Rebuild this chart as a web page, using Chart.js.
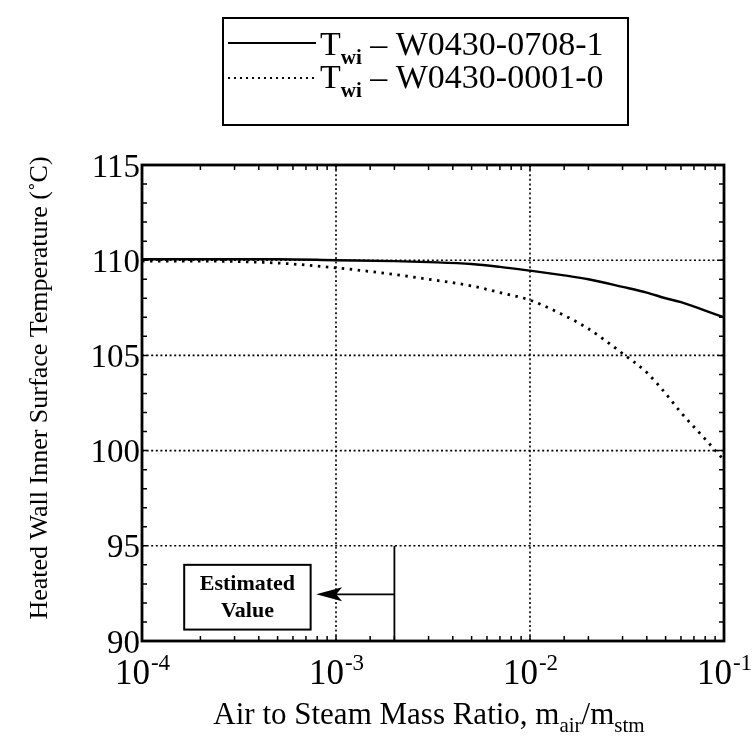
<!DOCTYPE html>
<html lang="en">
<head>
<meta charset="UTF-8" />
<title>Heated Wall Inner Surface Temperature</title>
<script src="https://cdn.jsdelivr.net/npm/chart.js@4.4.1/dist/chart.umd.min.js"></script>
<style>
  html, body { margin: 0; padding: 0; background: #fff; }
  #wrap { width: 755px; height: 749px; }
</style>
</head>
<body>
<div id="wrap"><canvas id="chart" width="755" height="749"></canvas></div>
<script>
// air to steam mass ratio
const massRatio = [1e-4, 2e-4, 5e-4, 1e-3, 2e-3, 3e-3, 5e-3, 7e-3, 1e-2, 1.5e-2, 2e-2, 3e-2, 4e-2, 5e-2, 6e-2, 8e-2, 1e-1];
// T_wi, run W0430-0708-1 (solid)
const twi0708 = [110.05, 110.05, 110.05, 110.0, 109.95, 109.9, 109.8, 109.65, 109.45, 109.2, 109.0, 108.6, 108.3, 108.0, 107.8, 107.35, 107.0];
// T_wi, run W0430-0001-0 (dotted)
const twi0001 = [109.95, 109.95, 109.85, 109.6, 109.25, 109.0, 108.65, 108.3, 107.9, 107.1, 106.4, 105.1, 104.1, 103.0, 102.0, 100.6, 99.5];

const xDecades = [-4, -3, -2, -1];
const yLabels = [90, 95, 100, 105, 110, 115];

// "Estimated Value" note, in data units
const estLine = 2e-3;
const estArrowTo = 7.9e-4;
const estArrowY = 92.45;
const estBox = [1.65e-4, 7.4e-4, 90.6, 94.0];

const serif = "'Liberation Serif', 'Times New Roman', serif";

const paper = {
  id: "paper",
  beforeDatasetsDraw(chart) {
    const { ctx, chartArea: a, scales: { x, y } } = chart;
    ctx.save();
    ctx.strokeStyle = "#000";
    ctx.lineWidth = 1.6;
    ctx.setLineDash([2, 2.6]);
    xDecades.forEach((d) => {
      const px = x.getPixelForValue(Math.pow(10, d));
      if (px <= a.left + 1 || px >= a.right - 1) return;
      ctx.beginPath(); ctx.moveTo(px, a.top); ctx.lineTo(px, a.bottom); ctx.stroke();
    });
    yLabels.forEach((v) => {
      const py = y.getPixelForValue(v);
      if (py <= a.top + 1 || py >= a.bottom - 1) return;
      ctx.beginPath(); ctx.moveTo(a.left, py); ctx.lineTo(a.right, py); ctx.stroke();
    });
    ctx.restore();
  },
  afterDraw(chart) {
    const { ctx, chartArea: a, scales: { x, y } } = chart;
    ctx.save();
    ctx.strokeStyle = "#000";
    ctx.fillStyle = "#000";

    // frame
    ctx.setLineDash([]);
    ctx.lineWidth = 2.8;
    ctx.strokeRect(a.left, a.top, a.right - a.left, a.bottom - a.top);

    // inward ticks on all four sides
    ctx.lineWidth = 1.5;
    const tl = 5;
    x.ticks.forEach((t) => {
      const px = x.getPixelForValue(t.value);
      ctx.beginPath();
      ctx.moveTo(px, a.bottom); ctx.lineTo(px, a.bottom - tl);
      ctx.moveTo(px, a.top); ctx.lineTo(px, a.top + tl);
      ctx.stroke();
    });
    y.ticks.forEach((t) => {
      const py = y.getPixelForValue(t.value);
      ctx.beginPath();
      ctx.moveTo(a.left, py); ctx.lineTo(a.left + tl, py);
      ctx.moveTo(a.right, py); ctx.lineTo(a.right - tl, py);
      ctx.stroke();
    });

    // x tick labels 10^n
    ctx.textBaseline = "alphabetic";
    ctx.textAlign = "left";
    xDecades.forEach((d) => {
      const px = x.getPixelForValue(Math.pow(10, d));
      ctx.font = "35px " + serif;
      const wb = ctx.measureText("10").width;
      ctx.font = "23px " + serif;
      const sup = "-" + Math.abs(d);
      const ws = ctx.measureText(sup).width;
      const x0 = px - (wb + ws) / 2;
      ctx.font = "35px " + serif;
      ctx.fillText("10", x0, 684);
      ctx.font = "23px " + serif;
      ctx.fillText(sup, x0 + wb + 1, 670);
    });

    // x axis title with subscripts
    const parts = [
      ["Air to Steam Mass Ratio, m", 31, 0],
      ["air", 21, 8],
      ["/m", 31, 0],
      ["stm", 21, 8],
    ];
    let total = 0;
    parts.forEach(([s, f]) => { ctx.font = f + "px " + serif; total += ctx.measureText(s).width; });
    let cx = 429 - total / 2;
    parts.forEach(([s, f, dy]) => {
      ctx.font = f + "px " + serif;
      ctx.fillText(s, cx, 724 + dy);
      cx += ctx.measureText(s).width;
    });

    // y axis title
    ctx.save();
    ctx.translate(40, 388);
    ctx.rotate(-Math.PI / 2);
    ctx.textAlign = "center";
    ctx.textBaseline = "middle";
    ctx.font = "26px " + serif;
    ctx.fillText("Heated Wall Inner Surface Temperature (\u02DAC)", 0, 0);
    ctx.restore();

    // estimated value note
    const lx = x.getPixelForValue(estLine);
    ctx.lineWidth = 1.8;
    ctx.beginPath();
    ctx.moveTo(lx, y.getPixelForValue(95)); ctx.lineTo(lx, a.bottom);
    ctx.stroke();
    const ay = y.getPixelForValue(estArrowY);
    const tip = x.getPixelForValue(estArrowTo);
    ctx.beginPath();
    ctx.moveTo(lx, ay); ctx.lineTo(tip + 20, ay);
    ctx.stroke();
    ctx.beginPath();
    ctx.moveTo(tip, ay); ctx.lineTo(tip + 26, ay - 7); ctx.lineTo(tip + 20, ay); ctx.lineTo(tip + 26, ay + 7);
    ctx.closePath(); ctx.fill();
    const bx0 = x.getPixelForValue(estBox[0]), bx1 = x.getPixelForValue(estBox[1]);
    const by0 = y.getPixelForValue(estBox[3]), by1 = y.getPixelForValue(estBox[2]);
    ctx.lineWidth = 2;
    ctx.strokeRect(bx0, by0, bx1 - bx0, by1 - by0);
    ctx.textAlign = "center";
    ctx.textBaseline = "middle";
    ctx.font = "bold 22px " + serif;
    ctx.fillText("Estimated", (bx0 + bx1) / 2, by0 + 19);
    ctx.fillText("Value", (bx0 + bx1) / 2, by0 + 46);

    // legend box
    ctx.textAlign = "left";
    ctx.textBaseline = "alphabetic";
    ctx.lineWidth = 2;
    ctx.strokeRect(223, 18, 405, 107);
    const rows = [
      { y: 43, base: 55, dash: [], label: " \u2013 W0430-0708-1" },
      { y: 78, base: 88, dash: [2, 4], label: " \u2013 W0430-0001-0" },
    ];
    rows.forEach((r) => {
      ctx.setLineDash(r.dash);
      ctx.lineWidth = 2;
      ctx.beginPath(); ctx.moveTo(228, r.y); ctx.lineTo(316, r.y); ctx.stroke();
      ctx.setLineDash([]);
      let tx = 320;
      ctx.font = "34px " + serif;
      ctx.fillText("T", tx, r.base);
      tx += ctx.measureText("T").width;
      ctx.font = "bold 21px " + serif;
      ctx.fillText("wi", tx, r.base + 9);
      tx += ctx.measureText("wi").width;
      ctx.font = "34px " + serif;
      ctx.fillText(r.label, tx, r.base);
    });
    ctx.restore();
  },
};

const ctx = document.getElementById("chart").getContext("2d");
new Chart(ctx, {
  type: "line",
  data: {
    datasets: [
      {
        label: "T_wi - W0430-0708-1",
        data: massRatio.map((m, i) => ({ x: m, y: twi0708[i] })),
        borderColor: "#000",
        borderWidth: 2.4,
        pointRadius: 0,
        cubicInterpolationMode: "monotone",
      },
      {
        label: "T_wi - W0430-0001-0",
        data: massRatio.map((m, i) => ({ x: m, y: twi0001[i] })),
        borderColor: "#000",
        borderWidth: 2.8,
        borderDash: [2.5, 5.5],
        pointRadius: 0,
        cubicInterpolationMode: "monotone",
      },
    ],
  },
  options: {
    responsive: false,
    animation: false,
    layout: { padding: { top: 165, right: 31, bottom: 0, left: 0 } },
    plugins: { legend: { display: false }, tooltip: { enabled: false } },
    scales: {
      x: {
        type: "logarithmic",
        min: 1e-4,
        max: 1e-1,
        grid: { display: false, drawTicks: false },
        border: { display: false },
        ticks: { display: false, autoSkip: false },
        afterFit: (s) => { s.height = 108; },
      },
      y: {
        min: 90,
        max: 115,
        grid: { display: false, drawTicks: false },
        border: { display: false },
        ticks: {
          stepSize: 1,
          autoSkip: false,
          padding: 2,
          labelOffset: 3,
          color: "#000",
          font: { family: serif, size: 33 },
          callback: (v) => (yLabels.includes(v) ? String(v) : ""),
        },
        afterFit: (s) => { s.width = 142; },
      },
    },
  },
  plugins: [paper],
});
</script>
</body>
</html>
